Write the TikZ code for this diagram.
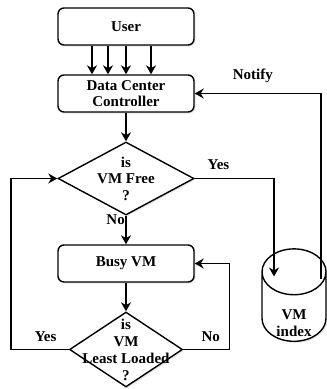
\documentclass[tikz,border=0pt]{standalone}
\usepackage{fontspec}
\setmainfont{Liberation Serif}
\usetikzlibrary{arrows.meta,shapes.geometric,shadows}

\tikzset{
  box/.style={draw, line width=1.4pt, rounded corners=6pt, fill=white,
    minimum width=136pt, minimum height=37pt, align=center,
    drop shadow={opacity=0.2, shadow xshift=1.5pt, shadow yshift=-1.5pt}},
  decision/.style={draw, diamond, line width=1.4pt, fill=white, inner sep=0pt,
    drop shadow={opacity=0.2, shadow xshift=1.5pt, shadow yshift=-1.5pt}},
  txt/.style={align=center, inner sep=0pt, font=\fontsize{15}{16.5}\selectfont\bfseries},
  flow/.style={->, line width=1.4pt}
}

\begin{document}
\begin{tikzpicture}[x=1pt, y=-1pt, >={Stealth[length=9pt,width=10pt]}]
    \useasboundingbox (0,0) rectangle (327,389);

    % Boxes
    \node[box, txt] (user) at (126,26.5) {User};
    \node[box, txt] (dcc) at (126,93.5) {Data Center\\Controller};
    \node[box, txt] (busy) at (126,263.5) {Busy VM};

    % Decisions
    \node[decision, minimum width=136pt, minimum height=73pt] (free) at (126,178.5) {};
    \node[txt] (freetxt) at (free) {is\\VM Free\\?};
    \node[decision, minimum width=113pt, minimum height=75pt] (least) at (126,349.5) {};
    \node[txt, font=\fontsize{15}{17}\selectfont\bfseries] (leasttxt) at (least) {is\\VM\\Least Loaded\\?};

    % VM index store
    \node[draw, cylinder, shape border rotate=90, aspect=1.1, line width=1.4pt,
      fill=white, minimum width=64pt, minimum height=76pt, txt, inner sep=0.3333em,
      drop shadow={opacity=0.2, shadow xshift=1.5pt, shadow yshift=-1.5pt}]
      (idx) at (294,312) {\phantom{VM}\\\phantom{index}};
    \node[txt] (idxtxt) at ([yshift=-11pt]idx.center) {VM\\index};
    \coordinate (yesend) at (274,276.5);
    \coordinate (notifystart) at (321,279);

    % User -> controller
    \foreach \dx in {-34,-18,0,25}
        \draw[flow] ([xshift=\dx pt]user.south) -- ([xshift=\dx pt]dcc.north);

    % Main flow
    \draw[flow] (dcc) -- (free);
    \draw[flow] (free) -- node[txt, pos=0.15, left=0.5pt] (nolbl) {No} (busy);
    \draw[flow] (busy) -- (least);

    % Branches
    \draw[flow] (free.east) -| node[txt, pos=0.15, above=8pt] (yeslbl) {Yes} (yesend);
    \draw[flow] (notifystart) |- node[txt, pos=0.77, above=10pt] (notlbl) {Notify} (dcc.east);
    \draw[flow] (least.west) -- ++(-58,0) node[txt, pos=0.4, above=7pt] (yes2lbl) {Yes} |- (free.west);
    \draw[flow] (least.east) -- ++(46,0) node[txt, pos=0.6, above=7pt] (no2lbl) {No} |- (busy.east);
\end{tikzpicture}
\end{document}
